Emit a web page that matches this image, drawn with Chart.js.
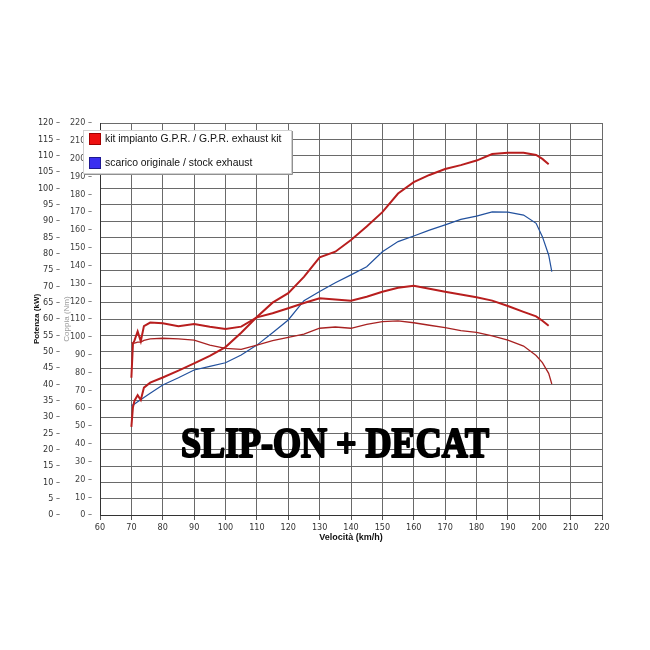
<!DOCTYPE html>
<html>
<head>
<meta charset="utf-8">
<script src="https://cdn.jsdelivr.net/npm/chart.js@4.4.0/dist/chart.umd.min.js"></script>
<style>
  html, body { margin: 0; padding: 0; background: #fff; }
  #wrap { width: 650px; height: 650px; }
</style>
</head>
<body>
<div id="wrap"><canvas id="dyno" width="650" height="650"></canvas></div>
<script>
// velocità (km/h)
const speed = [70, 70.5, 71, 72, 73, 74, 76, 80, 85, 90, 95, 100, 105, 110, 115, 120, 125, 130, 135, 140,
  145, 150, 155, 160, 165, 170, 175, 180, 185, 190, 195, 199, 201, 203, 204];

// kit G.P.R. - potenza (kW) e coppia (Nm)
const gprPower = [27, 33, 35, 36.7, 35.2, 39, 40.5, 42.1, 44.2, 46.4, 48.7, 51.4, 55.8, 60.6, 65, 67.9, 72.9, 78.9, 80.6, 84.2,
  88.3, 92.7, 98.4, 101.9, 104.1, 105.9, 107.1, 108.5, 110.5, 110.9, 110.9, 110.2, 109, 107.4, null];
const gprTorque = [77, 96, 98, 103, 97.5, 106, 108, 107.6, 106, 107.2, 105.7, 104.4, 105.7, 110.9, 113.2, 116, 119, 121.6, 121, 120.3,
  122.5, 125.3, 127.5, 128.7, 127, 125.3, 123.8, 122.2, 120.3, 117.3, 114, 111.5, 109, 106.2, null];

// scarico originale - potenza (kW) e coppia (Nm)
const stockPower = [33.5, 33.7, 34, 34.7, 35.3, 36, 37.3, 39.8, 42, 44.4, 45.5, 46.6, 49, 52, 55.8, 59.7, 65.6, 68.4, 71.1, 73.5,
  76, 80.6, 83.7, 85.4, 87.2, 88.8, 90.5, 91.5, 92.8, 92.7, 91.8, 89.3, 85.2, 79.6, 74.5];
const stockTorque = [96.7, 96.5, 96.5, 97, 97, 98, 98.8, 99.2, 98.8, 98.2, 95.4, 93.5, 93, 95.4, 97.8, 99.7, 101.5, 104.8, 105.5, 104.8,
  107, 108.5, 109, 107.9, 106.5, 105.1, 103.5, 102.5, 100.5, 98.2, 94.8, 89.5, 85.5, 79.5, 73.5];

const legendLabels = ['kit impianto G.P.R. / G.P.R. exhaust kit', 'scarico originale / stock exhaust'];
const overlayText = 'SLIP-ON + DECAT';

const tickFont = "'Liberation Sans Narrow', 'DejaVu Sans Condensed', 'Liberation Sans', sans-serif";

function pts(vals) {
  const out = [];
  for (let i = 0; i < speed.length; i++) {
    if (vals[i] !== null) out.push({ x: speed[i], y: vals[i] });
  }
  return out;
}

const extras = {
  id: 'extras',
  afterDraw(chart) {
    const ctx = chart.ctx;
    ctx.save();
    // legenda
    ctx.fillStyle = '#fff';
    ctx.fillRect(83, 130, 209, 44);
    ctx.strokeStyle = '#d0d0d0';
    ctx.lineWidth = 1;
    ctx.strokeRect(83.5, 130.5, 208, 43);
    ctx.strokeStyle = '#909090';
    ctx.beginPath();
    ctx.moveTo(292.5, 131); ctx.lineTo(292.5, 174.5); ctx.lineTo(84, 174.5);
    ctx.stroke();
    const cols = [['#ee1010', '#a00000'], ['#3a2ef0', '#1e1890']];
    const ys = [139, 163];
    ctx.font = "10.4px 'Liberation Sans', sans-serif";
    ctx.textBaseline = 'middle';
    for (let i = 0; i < 2; i++) {
      ctx.fillStyle = cols[i][0];
      ctx.fillRect(89, ys[i] - 6, 12, 12);
      ctx.strokeStyle = cols[i][1];
      ctx.strokeRect(89.5, ys[i] - 5.5, 11, 11);
      ctx.fillStyle = '#111';
      ctx.fillText(legendLabels[i], 105, ys[i]);
    }
    // scritta
    ctx.font = "bold 42px 'Liberation Serif', serif";
    const w = ctx.measureText(overlayText).width;
    ctx.translate(181, 457);
    ctx.scale(308 / w, 1);
    ctx.fillStyle = '#000';
    ctx.strokeStyle = '#000';
    ctx.lineWidth = 2.2;
    ctx.lineJoin = 'round';
    ctx.textBaseline = 'alphabetic';
    ctx.strokeText(overlayText, 0, 0);
    ctx.fillText(overlayText, 0, 0);
    ctx.restore();
  }
};

new Chart(document.getElementById('dyno'), {
  type: 'line',
  data: {
    datasets: [
      { label: 'gprTorque', data: pts(gprTorque), yAxisID: 'yT', borderColor: '#b81e1e', borderWidth: 2 },
      { label: 'stockTorque', data: pts(stockTorque), yAxisID: 'yT', borderColor: '#a82222', borderWidth: 1.3 },
      { label: 'gprPower', data: pts(gprPower), yAxisID: 'yP', borderColor: '#b81e1e', borderWidth: 2 },
      { label: 'stockPower', data: pts(stockPower), yAxisID: 'yP', borderColor: '#22519e', borderWidth: 1.2 }
    ]
  },
  options: {
    responsive: false,
    animation: false,
    events: [],
    elements: { point: { radius: 0 }, line: { tension: 0, fill: false } },
    layout: { padding: { left: 31, right: 48, top: 123, bottom: 105 } },
    plugins: { legend: { display: false }, tooltip: { enabled: false } },
    scales: {
      x: {
        type: 'linear', min: 60, max: 220,
        ticks: { stepSize: 10, color: '#333', padding: 2, maxRotation: 0, font: { family: tickFont, size: 9 } },
        grid: { color: '#6a6a6a', lineWidth: 1, tickLength: 5, tickColor: '#555' },
        border: { color: '#333' },
        title: { display: true, text: 'Velocità (km/h)', color: '#111', padding: { top: 0, bottom: 2 },
          font: { family: "'Liberation Sans', sans-serif", size: 9, weight: 'bold' } },
        afterFit(s) { s.height = 30; }
      },
      yP: {
        type: 'linear', position: 'left', min: 0, max: 120, weight: 2,
        ticks: { stepSize: 5, color: '#333', padding: 2, font: { family: tickFont, size: 9 },
          callback: v => v + ' –' },
        grid: { color: '#6a6a6a', lineWidth: 1, drawTicks: false },
        border: { display: false },
        title: { display: true, text: 'Potenza (kW)', color: '#111', padding: { top: 1, bottom: 0 },
          font: { family: "'Liberation Sans', sans-serif", size: 8, weight: 'bold' } },
        afterFit(s) { s.width = 31; }
      },
      yT: {
        type: 'linear', position: 'left', min: 0, max: 220, weight: 1,
        ticks: { stepSize: 10, color: '#444', padding: 8, font: { family: tickFont, size: 9 },
          callback: v => v + ' –' },
        grid: { drawOnChartArea: false, drawTicks: false },
        border: { color: '#333' },
        title: { display: true, text: 'Coppia (Nm)', color: '#999', padding: { top: 0, bottom: 0 },
          font: { family: "'Liberation Sans', sans-serif", size: 8 } },
        afterFit(s) { s.width = 38; }
      }
    }
  },
  plugins: [extras]
});
</script>
</body>
</html>
